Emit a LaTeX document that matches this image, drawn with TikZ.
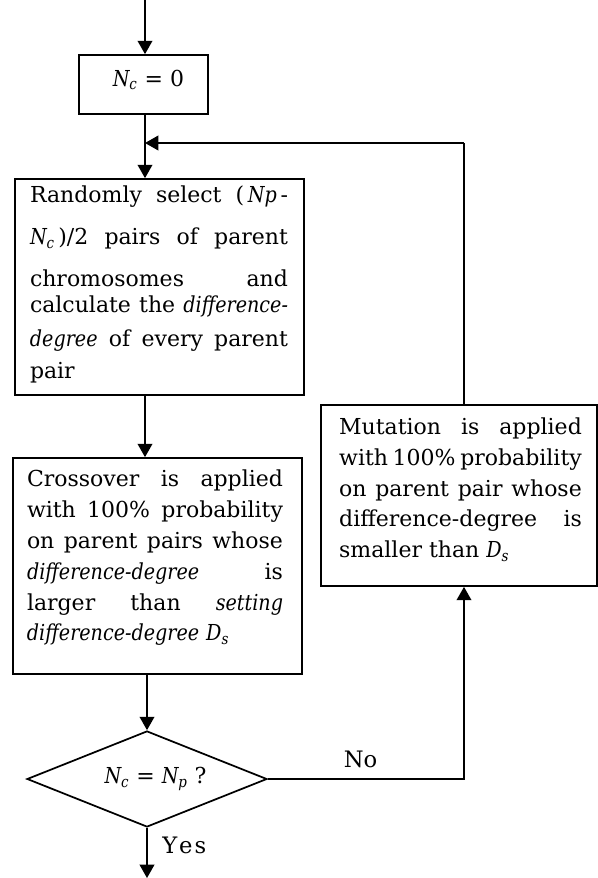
\documentclass[tikz,border=0pt]{standalone}
\usepackage{fontspec}
\setmainfont{DejaVu Serif}[ItalicFeatures={FakeStretch=0.87}]
\usetikzlibrary{shapes.geometric,arrows.meta}
\newcommand{\Nsub}[1]{\textit{N}\textsubscript{\kern-0.05em\textit{#1}}}
\newcommand{\jline}[1]{\makebox[\linewidth][s]{#1}}
\tikzset{
  box/.style={draw, rectangle, line width=1.3pt, inner sep=0pt},
  decision/.style={draw, diamond, line width=1.3pt, inner sep=0pt},
  arr/.style={line width=1.3pt, -{Triangle[width=11pt,length=10pt]}},
  ln/.style={line width=1.3pt},
  txt/.style={inner sep=0pt, font=\fontsize{16.5}{23.2}\selectfont},
  lbl/.style={inner sep=0pt, font=\fontsize{17}{19}\selectfont},
}
\begin{document}
\begin{tikzpicture}[x=0.75pt, y=-0.75pt]
\useasboundingbox (0,0) rectangle (598,878);
% boxes
\node[box, minimum width=96.75pt, minimum height=44.25pt] (b0) at (143.5,84.5) {};
\node[box, minimum width=216.75pt, minimum height=162pt] (b1) at (159.5,287) {};
\node[box, minimum width=216.75pt, minimum height=162pt] (b2) at (157.5,566) {};
\node[box, minimum width=207pt, minimum height=135.75pt] (b3) at (459,495.5) {};
\node[decision, minimum width=180pt, minimum height=72pt] (dia) at (147,779) {};
% texts
\node[txt] (t0) at (148.5,80) {\Nsub{c} = 0};
\node[txt] (t1) at (159,284.5) {\parbox{193.5pt}{%
\jline{Randomly select (\,\textit{Np}\,-}\\[8.3pt]%
\jline{\Nsub{c}\,)/2 pairs of parent}\\[8.3pt]%
\jline{chromosomes and}\\[-3.7pt]%
\jline{calculate the \textit{difference-}}\\[1.8pt]%
\jline{\textit{degree} of every parent}\\[0.8pt]%
pair}};
\node[txt] (t2) at (155,557.7) {\parbox{192pt}{%
\jline{Crossover is applied}\\
\jline{with 100\% probability}\\
\jline{on parent pairs whose}\\
\jline{\textit{difference-degree} is}\\
\jline{larger than \textit{setting}}\\
\textit{difference-degree} \textit{D}\textsubscript{\textit{s}}}};
\node[txt] (t3) at (460.5,489.5) {\parbox{182pt}{%
\jline{Mutation is applied}\\
\jline{with 100\% probability}\\
\jline{on parent pair whose}\\
\jline{difference-degree is}\\
smaller than \textit{D}\textsubscript{\textit{s}}}};
\node[txt] (t4) at (155.5,779) {\Nsub{c} = \Nsub{p}\ ?};
\node[lbl] (no) at (360.5,759) {No};
\node[lbl, anchor=west] (yes) at (162,845) {Y\kern1.5pt e\kern1.5pt s};
% coordinates
\coordinate (top) at (145,0);
\coordinate (fbx) at (464,143);
\coordinate (fbin) at (145,143);
\coordinate (out) at (147,878);
% connectors
\draw[arr] (top) -- (top |- b0.north);
\draw[arr] (b0.south -| top) -- (b1.north -| top);
\draw[ln] (b3.north -| fbx) -- (fbx);
\draw[arr] (fbx) -- (fbin);
\draw[arr] (b1.south -| top) -- (b2.north -| top);
\draw[arr] (b2.south -| dia.north) -- (dia.north);
\draw[arr] (dia.east) -- (dia.east -| fbx) -- (b3.south -| fbx);
\draw[arr] (dia.south) -- (out);
\end{tikzpicture}
\end{document}
